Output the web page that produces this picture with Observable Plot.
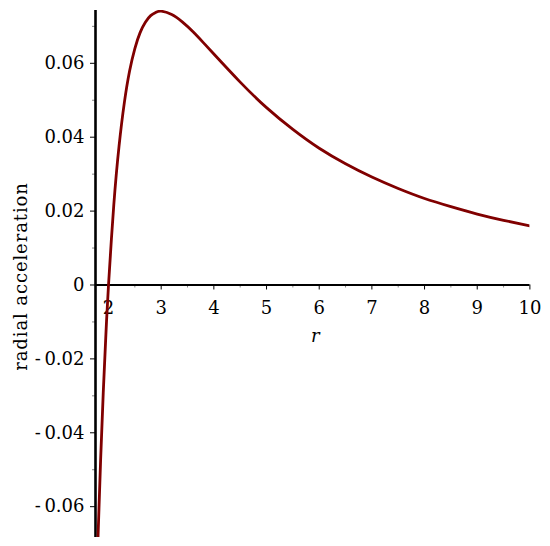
<!DOCTYPE html>
<html>
<head>
<meta charset="utf-8">
<script src="https://cdn.jsdelivr.net/npm/d3@7"></script>
<script src="https://cdn.jsdelivr.net/npm/@observablehq/plot@0.6"></script>
</head>
<body style="margin:0;background:#ffffff">
<script>
// Curve values
const rValues = [1.8, 1.85, 1.9, 1.95, 2.0, 2.1, 2.2, 2.3, 2.4, 2.5, 2.6, 2.7, 2.8, 2.9, 3.0,
  3.2, 3.4, 3.6, 3.8, 4.0, 4.5, 5.0, 5.5, 6.0, 6.5, 7.0, 7.5, 8.0, 8.5, 9.0, 9.5, 10.0];
const accelValues = [-0.0686, -0.0474, -0.0292, -0.0135, 0.0, 0.0216, 0.0376, 0.0493, 0.0579, 0.0640, 0.0683, 0.0711, 0.0729, 0.0738, 0.0741,
  0.0732, 0.0712, 0.0686, 0.0656, 0.0625, 0.0549, 0.0480, 0.0421, 0.0370, 0.0328, 0.0292, 0.0261, 0.0234, 0.0212, 0.0192, 0.0175, 0.0160];

// Axis ticks and labels
const xTicks = [2, 3, 4, 5, 6, 7, 8, 9, 10];
const xMinorTicks = [2.5, 3.5, 4.5, 5.5, 6.5, 7.5, 8.5, 9.5];
const yTicks = [-0.06, -0.04, -0.02, 0, 0.02, 0.04, 0.06];
const yTickLabels = ["-\u20090.06", "-\u20090.04", "-\u20090.02", "0", "0.02", "0.04", "0.06"];
const yMinorTicks = [-0.05, -0.03, -0.01, 0.01, 0.03, 0.05, 0.07];
const xLabel = "r";
const yLabel = "radial acceleration";

const xDomain = [1.753, 10];
const yDomain = [-0.06834, 0.07429];

const curveData = rValues.map((r, i) => ({r, a: accelValues[i]}));
const yTickData = yTicks.map((v, i) => ({v, label: yTickLabels[i]}));

const color = "#800000";
const serif = "'DejaVu Serif', 'Liberation Serif', serif";
const fs = 18;

const chart = Plot.plot({
  width: 550,
  height: 546,
  marginLeft: 95,
  marginRight: 20.6,
  marginTop: 10,
  marginBottom: 9,
  style: {fontFamily: serif, background: "#ffffff"},
  x: {domain: xDomain, axis: null},
  y: {domain: yDomain, axis: null},
  marks: [
    // x tick labels
    Plot.text(xTicks, {x: d => d, y: 0, text: d => String(d), textAnchor: "middle", lineAnchor: "top", dy: 16, fill: "#000", fontSize: fs}),
    // y tick labels
    Plot.text(yTickData, {x: xDomain[0], y: "v", text: "label", textAnchor: "end", lineAnchor: "middle", dx: -11, fill: "#000", fontSize: fs}),
    // axis titles
    Plot.text([xLabel], {x: (xDomain[0] + xDomain[1]) / 2 + 0.05, y: 0, text: d => d, textAnchor: "middle", lineAnchor: "top", dy: 44.5, fontStyle: "italic", fill: "#000", fontSize: fs}),
    Plot.text([yLabel], {frameAnchor: "left", text: d => d, rotate: -90, textAnchor: "middle", lineAnchor: "middle", dx: -73.8, dy: 2.5, fill: "#000", fontSize: fs}),
    // axis lines
    Plot.ruleX([xDomain[0]], {stroke: "#000", strokeWidth: 2.6}),
    Plot.ruleY([0], {x1: xDomain[0], x2: xDomain[1], stroke: "#000", strokeWidth: 2}),
    // x ticks
    Plot.ruleX(xTicks, {x: d => d, y1: 0, y2: 0, insetBottom: -5, stroke: "#000", strokeWidth: 1}),
    Plot.ruleX(xMinorTicks, {x: d => d, y1: 0, y2: 0, insetBottom: -3, stroke: "#000", strokeWidth: 0.8, strokeOpacity: 0.6}),
    // y ticks
    Plot.ruleY(yTicks, {y: d => d, x1: xDomain[0], x2: xDomain[0], insetLeft: -5, stroke: "#000", strokeWidth: 1}),
    Plot.ruleY(yMinorTicks, {y: d => d, x1: xDomain[0], x2: xDomain[0], insetLeft: -3, stroke: "#000", strokeWidth: 0.8, strokeOpacity: 0.6}),
    // curve
    Plot.line(curveData, {x: "r", y: "a", curve: "natural", stroke: color, strokeWidth: 2.8, clip: true})
  ]
});

document.body.appendChild(chart);

// serif lettering; the axis title is a little wider spaced in the reference
chart.setAttribute("font-family", serif);
chart.querySelectorAll("text, tspan").forEach(el => {
  el.setAttribute("font-family", serif);
  el.style.setProperty("font-family", serif, "important");
  if (el.textContent === yLabel) el.style.setProperty("letter-spacing", "0.9px", "important");
});
</script>
</body>
</html>
